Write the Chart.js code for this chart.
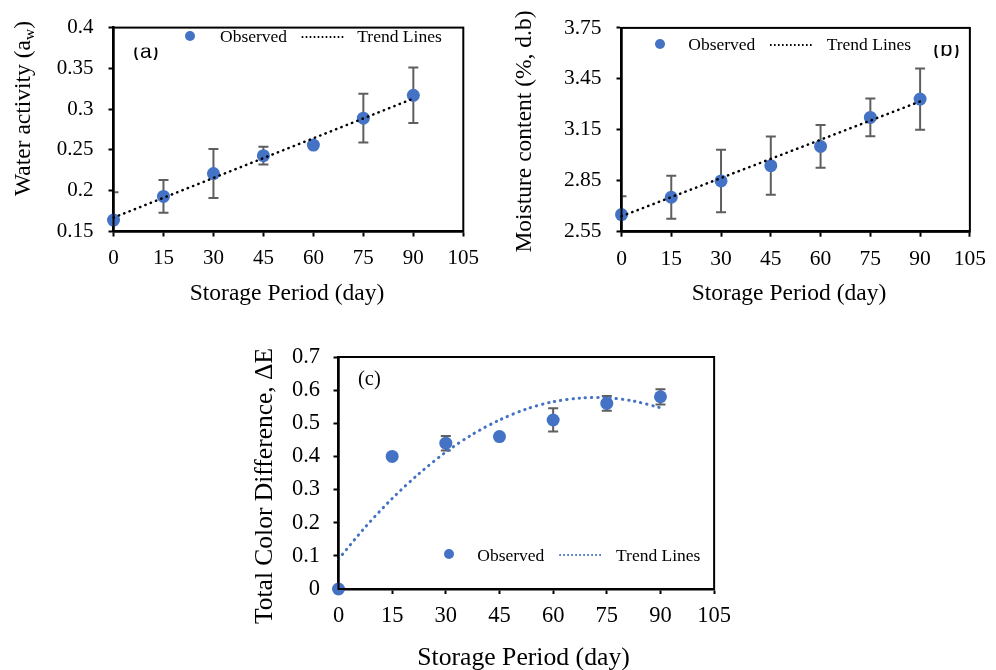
<!DOCTYPE html>
<html>
<head>
<meta charset="utf-8">
<script src="https://cdn.jsdelivr.net/npm/chart.js@4.4.1/dist/chart.umd.min.js"></script>
<style>
  html, body { margin: 0; padding: 0; background: #fff; }
  body { width: 996px; height: 670px; position: relative; overflow: hidden; }
  canvas { position: absolute; }
</style>
</head>
<body>
<canvas id="chartA" width="490" height="310" style="left:0;top:0"></canvas>
<canvas id="chartB" width="506" height="310" style="left:490px;top:0"></canvas>
<canvas id="chartC" width="500" height="340" style="left:240px;top:330px"></canvas>
<script>
const SERIF = '"Liberation Serif", "Times New Roman", serif';
const SANS = '"Liberation Sans", Arial, sans-serif';
const BLUE = "#4472c4";

// storage days (x) for every panel
const days = [0, 15, 30, 45, 60, 75, 90];

// (a) water activity
const waterActivity = [0.164, 0.193, 0.221, 0.243, 0.256, 0.289, 0.317];
const waterActivityErr = [0.034, 0.020, 0.030, 0.011, 0.003, 0.030, 0.034];

// (b) moisture content
const moisture = [2.651, 2.753, 2.849, 2.939, 3.052, 3.223, 3.331];
const moistureErr = [0.108, 0.127, 0.184, 0.172, 0.126, 0.111, 0.180];

// (c) total colour difference
const colorDiff = [0, 0.40, 0.44, 0.46, 0.51, 0.56, 0.58];
const colorDiffErr = [0, 0, 0.022, 0, 0.035, 0.022, 0.023];

// trend lines
const linearTrendDays = [0, 90];
const waterTrend = [0.167, 0.313];
const moistureTrend = [2.641, 3.317];
const colorTrendDays = [0, 7.5, 15, 22.5, 30, 37.5, 45, 52.5, 60, 67.5, 75, 82.5, 90];
const colorTrend = [0.090, 0.187, 0.273, 0.348, 0.413, 0.467, 0.510, 0.543, 0.565, 0.576, 0.577, 0.567, 0.547];

const xTitle = "Storage Period (day)";
const legendLabels = ["Observed", "Trend Lines"];

const pts = (xs, ys) => xs.map((x, i) => ({ x: x, y: ys[i] }));

// Excel-like tick text: 0.4, 0.35, 2.55 ...
const tickText = v => String(parseFloat(Number(v).toFixed(4)));

// error bars, frame, axis titles, legend and panel letter
const decoPlugin = {
  id: "deco",
  beforeDatasetsDraw(chart, args, opts) {
    const { ctx, chartArea: a, scales: { x, y } } = chart;
    ctx.save();
    ctx.beginPath();
    ctx.rect(a.left, a.top, a.right - a.left, a.bottom - a.top);
    ctx.clip();
    ctx.strokeStyle = "#5e5e5e";
    ctx.lineWidth = 2;
    opts.err.forEach((e, i) => {
      if (!e) return;
      const px = x.getPixelForValue(days[i]);
      const top = y.getPixelForValue(opts.values[i] + e);
      const bot = y.getPixelForValue(opts.values[i] - e);
      ctx.beginPath();
      ctx.moveTo(px, top); ctx.lineTo(px, bot);
      ctx.moveTo(px - 5, top); ctx.lineTo(px + 5, top);
      ctx.moveTo(px - 5, bot); ctx.lineTo(px + 5, bot);
      ctx.stroke();
    });
    ctx.restore();
  },
  afterDraw(chart, args, opts) {
    const { ctx, chartArea: a } = chart;
    ctx.save();
    ctx.strokeStyle = "#000";
    ctx.lineWidth = 2;
    ctx.strokeRect(a.left, a.top, a.right - a.left, a.bottom - a.top);

    ctx.fillStyle = "#000";
    ctx.textBaseline = "alphabetic";

    // x title
    const xt = opts.xTitle;
    ctx.font = `${xt.size}px ${SERIF}`;
    ctx.textAlign = "center";
    ctx.fillText(xTitle, xt.x, xt.y);

    // y title (rotated, may hold a subscript)
    const yt = opts.yTitle;
    ctx.save();
    ctx.translate(yt.x, yt.y);
    ctx.rotate(-Math.PI / 2);
    ctx.textAlign = "left";
    let total = 0;
    yt.parts.forEach(p => {
      ctx.font = `${p.sub ? yt.size * 0.66 : yt.size}px ${SERIF}`;
      p.w = ctx.measureText(p.text).width;
      total += p.w;
    });
    let u = -total / 2;
    yt.parts.forEach(p => {
      ctx.font = `${p.sub ? yt.size * 0.66 : yt.size}px ${SERIF}`;
      ctx.fillText(p.text, u, p.sub ? yt.size * 0.18 : 0);
      u += p.w;
    });
    ctx.restore();

    // legend
    const lg = opts.legend;
    ctx.fillStyle = BLUE;
    ctx.beginPath();
    ctx.arc(lg.marker[0], lg.marker[1], 5, 0, Math.PI * 2);
    ctx.fill();
    ctx.fillStyle = "#000";
    ctx.textAlign = "left";
    ctx.font = `17.5px ${SERIF}`;
    ctx.fillText(legendLabels[0], lg.observedX, lg.baseline);
    ctx.fillText(legendLabels[1], lg.trendX, lg.baseline);
    ctx.strokeStyle = lg.lineColor;
    ctx.lineWidth = 1.8;
    ctx.setLineDash([1.6, 2.4]);
    ctx.beginPath();
    ctx.moveTo(lg.line[0], lg.line[2]);
    ctx.lineTo(lg.line[1], lg.line[2]);
    ctx.stroke();
    ctx.setLineDash([]);

    // panel letter
    const pl = opts.panel;
    ctx.save();
    if (pl.clip) {
      ctx.beginPath();
      ctx.rect(0, pl.clip[0], chart.width, pl.clip[1] - pl.clip[0]);
      ctx.clip();
    }
    ctx.font = pl.font;
    ctx.fillText(pl.text, pl.x, pl.y);
    ctx.restore();

    ctx.restore();
  }
};

function makeChart(id, c) {
  const tickFont = { family: SERIF, size: c.tickSize, lineHeight: 1.2 };
  return new Chart(document.getElementById(id), {
    type: "scatter",
    data: {
      datasets: [
        {
          label: legendLabels[1],
          data: pts(c.trendX, c.trendY),
          showLine: true,
          borderColor: c.trendColor,
          borderWidth: c.trendWidth,
          borderDash: c.trendDash,
          borderCapStyle: "round",
          tension: c.tension || 0,
          pointRadius: 0,
          clip: false,
          order: 0,
        },
        {
          label: legendLabels[0],
          data: pts(days, c.values),
          backgroundColor: BLUE,
          borderColor: BLUE,
          pointRadius: 6.5,
          pointHoverRadius: 6.5,
          borderWidth: 0,
          clip: false,
          order: 1,
        },
      ],
    },
    options: {
      responsive: false,
      animation: false,
      events: [],
      layout: { padding: { left: 0, top: c.area.top, right: c.area.right, bottom: 0 } },
      plugins: {
        legend: { display: false },
        tooltip: { enabled: false },
        deco: {
          values: c.values,
          err: c.err,
          xTitle: c.xTitle,
          yTitle: c.yTitle,
          legend: c.legend,
          panel: c.panel,
        },
      },
      scales: {
        x: {
          type: "linear",
          min: 0,
          max: 105,
          afterFit: s => { s.height = c.area.bottom; },
          ticks: { stepSize: 15, color: "#000", font: tickFont, padding: c.xTickPad, maxRotation: 0, callback: tickText },
          grid: { drawOnChartArea: false, drawTicks: true, tickLength: 5, tickWidth: 2, tickColor: "#000" },
          border: { display: true, color: "#000", width: 2.5 },
        },
        y: {
          min: c.yMin,
          max: c.yMax,
          afterFit: s => { s.width = c.area.left; },
          ticks: { stepSize: c.yStep, color: "#000", font: tickFont, padding: c.yTickPad, callback: tickText },
          grid: { drawOnChartArea: false, drawTicks: true, tickLength: 5, tickWidth: 2, tickColor: "#000" },
          border: { display: true, color: "#000", width: 2.5 },
        },
      },
    },
    plugins: [decoPlugin],
  });
}

makeChart("chartA", {
  values: waterActivity,
  err: waterActivityErr,
  trendX: linearTrendDays,
  trendY: waterTrend,
  trendColor: "#000",
  trendWidth: 2.5,
  trendDash: [0.4, 5.3],
  yMin: 0.15, yMax: 0.4, yStep: 0.05,
  area: { left: 113.5, top: 20.5, right: 26.7, bottom: 78.5 },
  tickSize: 21, yTickPad: 15, xTickPad: 9,
  xTitle: { x: 287, y: 300, size: 23.5 },
  yTitle: { x: 29.5, y: 108.5, size: 23.5, parts: [{ text: "Water activity (a" }, { text: "w", sub: true }, { text: ")" }] },
  legend: { marker: [190, 36], observedX: 220, trendX: 357.3, baseline: 41.7, line: [301.7, 344, 37], lineColor: "#000" },
  panel: { text: "(a)", x: 133, y: 57.5, font: `21px ${SANS}`, clip: [47.5, 60] },
});

makeChart("chartB", {
  values: moisture,
  err: moistureErr,
  trendX: linearTrendDays,
  trendY: moistureTrend,
  trendColor: "#000",
  trendWidth: 2.5,
  trendDash: [0.4, 5.3],
  yMin: 2.55, yMax: 3.75, yStep: 0.3,
  area: { left: 131.5, top: 20.5, right: 16.6, bottom: 78.3 },
  tickSize: 21.5, yTickPad: 15, xTickPad: 10,
  xTitle: { x: 299, y: 300, size: 23.5 },
  yTitle: { x: 40.7, y: 131.5, size: 23.5, parts: [{ text: "Moisture content (%, d.b)" }] },
  legend: { marker: [170, 44], observedX: 198.3, trendX: 336.7, baseline: 50, line: [280, 322.7, 45], lineColor: "#000" },
  panel: { text: "(b)", x: 443, y: 56, font: `22px ${SANS}`, clip: [45, 58] },
});

makeChart("chartC", {
  values: colorDiff,
  err: colorDiffErr,
  trendX: colorTrendDays,
  trendY: colorTrend,
  trendColor: BLUE,
  trendWidth: 3,
  trendDash: [0.4, 5.8],
  tension: 0.3,
  yMin: 0, yMax: 0.7, yStep: 0.1,
  area: { left: 98.5, top: 23.3, right: 18.3, bottom: 81 },
  tickSize: 22.5, yTickPad: 13.5, xTickPad: 9,
  xTitle: { x: 283.5, y: 335, size: 25.7 },
  yTitle: { x: 32, y: 156, size: 25.5, parts: [{ text: "Total Color Difference, ΔE" }] },
  legend: { marker: [209, 224], observedX: 237.3, trendX: 376, baseline: 230.7, line: [319.3, 361.7, 225], lineColor: BLUE },
  panel: { text: "(c)", x: 118, y: 55, font: `20.5px ${SERIF}` },
});
</script>
</body>
</html>
